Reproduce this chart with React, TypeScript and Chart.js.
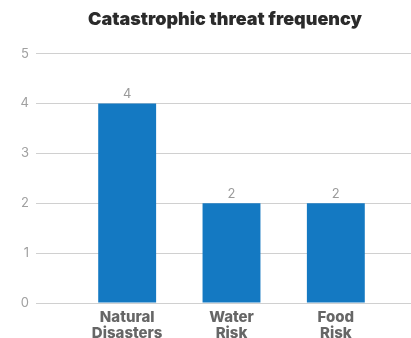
import React, { useEffect, useRef } from "react";
import { Chart, registerables } from "chart.js";

Chart.register(...registerables);

const TITLE = "Catastrophic threat frequency";
const categories: string[][] = [
  ["Natural", "Disasters"],
  ["Water", "Risk"],
  ["Food", "Risk"],
];
const frequency: number[] = [4, 2, 2];
const yMin = 0;
const yMax = 5;
const yStep = 1;

const BAR_COLOR = "#1479c2";
const GRID_COLOR = "#d0d0d0";

const valueLabels = {
  id: "valueLabels",
  afterDatasetsDraw(chart: any) {
    const ctx = chart.ctx;
    ctx.save();
    ctx.font = "400 13px Inter, 'Noto Sans', sans-serif";
    ctx.fillStyle = "#9a9a9a";
    ctx.textAlign = "center";
    ctx.textBaseline = "bottom";
    chart.data.datasets.forEach((ds: any, di: number) => {
      const meta = chart.getDatasetMeta(di);
      meta.data.forEach((bar: any, i: number) => {
        ctx.fillText(String(ds.data[i]), bar.x, bar.y - 3);
      });
    });
    ctx.restore();
  },
};

// nudge the title a little left of the plot-area centre, as in the reference
const titleShift = {
  id: "titleShift",
  afterLayout(chart: any) {
    const tb = chart.titleBlock;
    if (tb) {
      tb.left = chart.chartArea.left - 13;
    }
  },
};

export default function App() {
  const ref = useRef<HTMLCanvasElement | null>(null);
  useEffect(() => {
    if (!ref.current) return;
    const chart = new Chart(ref.current, {
      type: "bar",
      data: {
        labels: categories,
        datasets: [
          {
            data: frequency,
            backgroundColor: BAR_COLOR,
            categoryPercentage: 1,
            barPercentage: 0.555,
          },
        ],
      },
      options: {
        responsive: false,
        animation: false,
        layout: { padding: 0 },
        plugins: {
          legend: { display: false },
          tooltip: { enabled: false },
          title: {
            display: true,
            text: TITLE,
            fullSize: false,
            color: "#2b2b2b",
            font: { family: "Inter, 'Noto Sans', sans-serif", size: 18, weight: "900", lineHeight: 1.2 },
            padding: { top: 9, bottom: 23 },
          },
        },
        scales: {
          x: {
            grid: { display: false, drawTicks: false },
            border: { display: false },
            ticks: {
              color: "#666666",
              padding: 6,
              maxRotation: 0,
              autoSkip: false,
              font: { family: "Inter, 'Noto Sans', sans-serif", size: 15, weight: "800", lineHeight: 1.1 },
            },
            afterFit(scale: any) {
              scale.height = 35;
            },
          },
          y: {
            position: "left",
            min: yMin,
            max: yMax,
            border: { display: false },
            grid: { color: GRID_COLOR, lineWidth: 1, drawTicks: true, tickLength: 39, tickColor: GRID_COLOR },
            ticks: {
              stepSize: yStep,
              padding: 7,
              color: "#a0a0a0",
              font: { family: "Inter, 'Noto Sans', sans-serif", size: 13 },
            },
            afterFit(scale: any) {
              scale.width = 75;
            },
          },
          yRight: {
            position: "right",
            min: yMin,
            max: yMax,
            border: { display: false },
            grid: { drawOnChartArea: false, drawTicks: true, tickLength: 23, tickColor: GRID_COLOR, color: GRID_COLOR },
            ticks: { stepSize: yStep, display: false },
            afterFit(scale: any) {
              scale.width = 23;
            },
          },
        },
      },
      plugins: [valueLabels, titleShift],
    } as any);
    return () => chart.destroy();
  }, []);
  return (
    <div style={{ position: "fixed", left: 0, top: 0, width: 411, height: 338, background: "#fff" }}>
      <canvas ref={ref} width={411} height={338} />
    </div>
  );
}
